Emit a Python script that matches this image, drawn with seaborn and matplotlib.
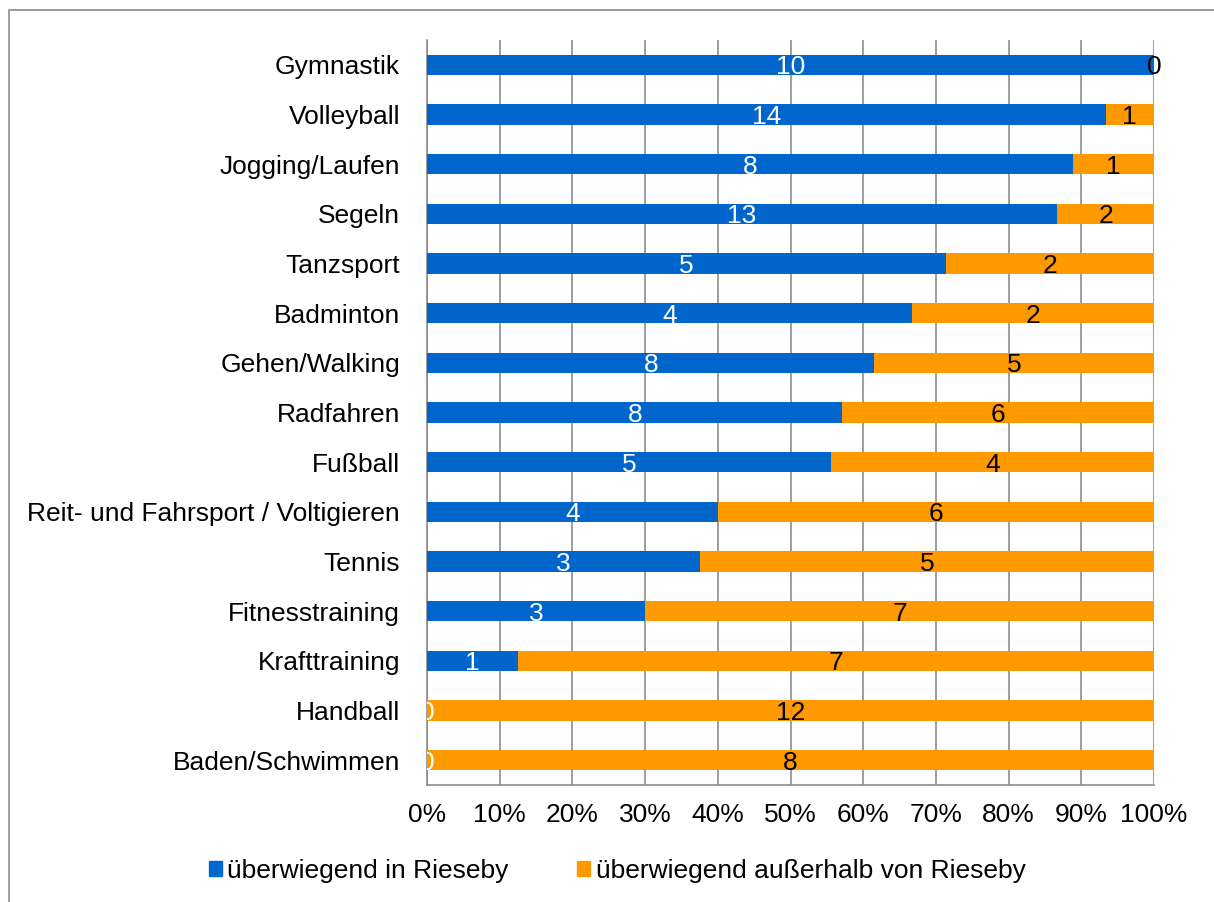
import seaborn as sns
import matplotlib.pyplot as plt
import numpy as np
import pandas as pd
from matplotlib.patches import Patch, Rectangle
from matplotlib.ticker import PercentFormatter

# Daten
sportarten = ["Gymnastik", "Volleyball", "Jogging/Laufen", "Segeln", "Tanzsport",
              "Badminton", "Gehen/Walking", "Radfahren", "Fußball",
              "Reit- und Fahrsport / Voltigieren", "Tennis", "Fitnesstraining",
              "Krafttraining", "Handball", "Baden/Schwimmen"]
in_rieseby = np.array([10, 14, 8, 13, 5, 4, 8, 8, 5, 4, 3, 3, 1, 0, 0])
ausserhalb = np.array([0, 1, 1, 2, 2, 2, 5, 6, 4, 6, 5, 7, 7, 12, 8])

gesamt = in_rieseby + ausserhalb
df = pd.DataFrame({
    "sport": sportarten,
    "anteil_in": in_rieseby / gesamt,
    "anteil_total": gesamt / gesamt,
})

blau = "#0066CC"
orange = "#FF9900"
grau = "#8C8C8C"
fs = 19

sns.set_style("white")
plt.rcParams["font.family"] = ["Liberation Sans", "DejaVu Sans"]
plt.rcParams["text.color"] = "black"
plt.rcParams["xtick.labelcolor"] = "black"
plt.rcParams["ytick.labelcolor"] = "black"

fig = plt.figure(figsize=(12.14, 9.02), dpi=100)
ax = fig.add_axes([427 / 1214, 1 - 785 / 902, 727 / 1214, 745 / 902])

# Rahmen um die Grafik
fig.patches.append(Rectangle((9 / 1214, -0.1), 1.2, 1 - 10 / 902 + 0.1,
                             transform=fig.transFigure, fill=False,
                             edgecolor=grau, linewidth=1.2, zorder=0))

# gestapelte Balken: erst 100% orange, dann blauer Anteil darüber
sns.barplot(data=df, x="anteil_total", y="sport", color=orange, width=0.41,
            saturation=1, ax=ax, orient="h", zorder=3, linewidth=0)
sns.barplot(data=df, x="anteil_in", y="sport", color=blau, width=0.41,
            saturation=1, ax=ax, orient="h", zorder=4, linewidth=0)

# Beschriftungen in den Segmenten
for i in range(len(sportarten)):
    a = in_rieseby[i] / gesamt[i]
    ax.text(a / 2, i, str(in_rieseby[i]), color="white", fontsize=fs,
            ha="center", va="center_baseline", zorder=5, clip_on=True)
    ax.text(a + (1 - a) / 2, i, str(ausserhalb[i]), color="black", fontsize=fs,
            ha="center", va="center_baseline", zorder=5, clip_on=False)

ax.set_xlim(0, 1)
ax.set_ylim(len(sportarten) - 0.5, -0.5)
ax.set_xticks(np.arange(0, 1.01, 0.1))
ax.xaxis.set_major_formatter(PercentFormatter(1.0, decimals=0))
ax.set_yticks(np.arange(-0.5, len(sportarten), 1), minor=True)
ax.tick_params(axis="y", which="major", length=0, labelsize=fs, pad=19.5,
               labelcolor="black")
ax.tick_params(axis="y", which="minor", length=6, color=grau, width=1.2)
ax.tick_params(axis="x", which="major", length=6, color=grau, width=1.2,
               labelsize=fs, pad=7, labelcolor="black")
ax.grid(axis="x", color=grau, linewidth=1.2, zorder=0)
ax.set_axisbelow(True)
ax.set_xlabel("")
ax.set_ylabel("")

for s in ["top", "right"]:
    ax.spines[s].set_visible(False)
for s in ["left", "bottom"]:
    ax.spines[s].set_color(grau)
    ax.spines[s].set_linewidth(1.2)

handles = [Patch(color=blau, label="überwiegend in Rieseby"),
           Patch(color=orange, label="überwiegend außerhalb von Rieseby")]
fig.legend(handles=handles, loc="center", bbox_to_anchor=(617 / 1214, 1 - 871 / 902),
           ncol=2, frameon=False, fontsize=fs, handlelength=0.5, handleheight=0.5,
           handletextpad=0.2, columnspacing=2.6, labelcolor="black")

fig.savefig("out.png", dpi=100)
